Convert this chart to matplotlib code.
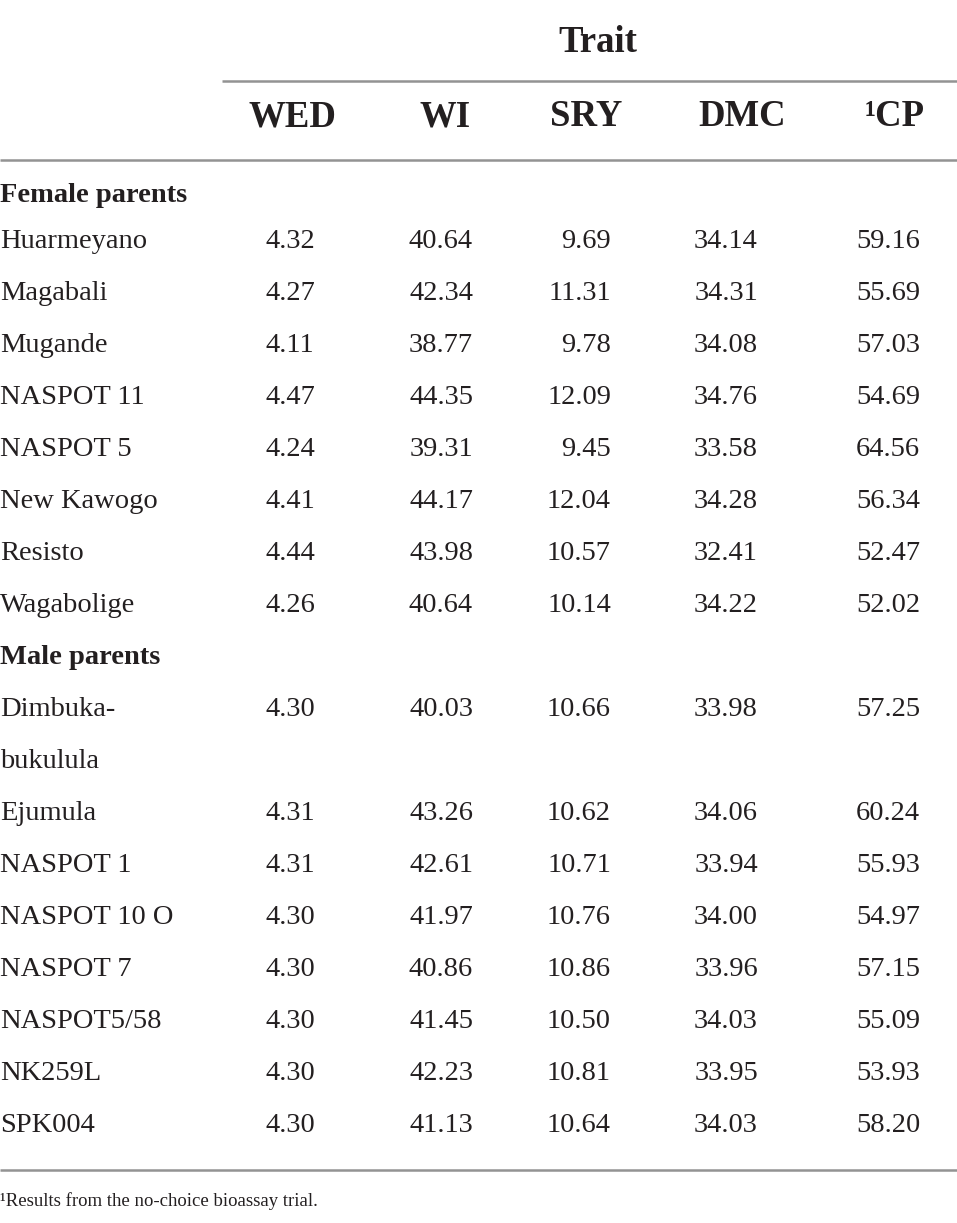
import matplotlib
matplotlib.use("Agg")
import matplotlib.pyplot as plt

plt.rcParams['font.family'] = ['Liberation Serif', 'DejaVu Serif']

columns = ["WED", "WI", "SRY", "DMC", "¹CP"]
female_names = ["Huarmeyano", "Magabali", "Mugande", "NASPOT 11", "NASPOT 5",
                "New Kawogo", "Resisto", "Wagabolige"]
female_wed = ["4.32", "4.27", "4.11", "4.47", "4.24", "4.41", "4.44", "4.26"]
female_wi = ["40.64", "42.34", "38.77", "44.35", "39.31", "44.17", "43.98", "40.64"]
female_sry = ["9.69", "11.31", "9.78", "12.09", "9.45", "12.04", "10.57", "10.14"]
female_dmc = ["34.14", "34.31", "34.08", "34.76", "33.58", "34.28", "32.41", "34.22"]
female_cp = ["59.16", "55.69", "57.03", "54.69", "64.56", "56.34", "52.47", "52.02"]

male_names = ["Dimbuka-\nbukulula", "Ejumula", "NASPOT 1", "NASPOT 10 O", "NASPOT 7",
              "NASPOT5/58", "NK259L", "SPK004"]
male_wed = ["4.30", "4.31", "4.31", "4.30", "4.30", "4.30", "4.30", "4.30"]
male_wi = ["40.03", "43.26", "42.61", "41.97", "40.86", "41.45", "42.23", "41.13"]
male_sry = ["10.66", "10.62", "10.71", "10.76", "10.86", "10.50", "10.81", "10.64"]
male_dmc = ["33.98", "34.06", "33.94", "34.00", "33.96", "34.03", "33.95", "34.03"]
male_cp = ["57.25", "60.24", "55.93", "54.97", "57.15", "55.09", "53.93", "58.20"]

footnote = "¹Results from the no-choice bioassay trial."

W, H = 957, 1223
fig = plt.figure(figsize=(W / 100, H / 100), dpi=100)
ax = fig.add_axes([0, 0, 1, 1])
ax.set_xlim(0, W)
ax.set_ylim(H, 0)
ax.axis("off")

fs = 20.5
hfs = 26.5
txt_col = "#231f20"
col_x = [290, 441, 611, 726, 888]
col_ha = ["center", "center", "right", "center", "center"]
head_x = [292, 445, 586, 742, 895]
dy = 2

line_col = "#939393"
ax.plot([222, W], [81, 81], color=line_col, lw=1.8, solid_capstyle="butt")
ax.plot([0, W], [160, 160], color=line_col, lw=1.8, solid_capstyle="butt")
ax.plot([0, W], [1170, 1170], color=line_col, lw=1.8, solid_capstyle="butt")

ax.text(598, 43, "Trait", fontsize=hfs, fontweight="bold", ha="center",
        va="center", color=txt_col)
for x, c in zip(head_x, columns):
    ax.text(x, 117, c, fontsize=hfs, fontweight="bold", ha="center",
            va="center", color=txt_col)

def draw_group(title, y0, names, cols, row_ys):
    ax.text(0, y0 + dy, title, fontsize=fs, fontweight="bold", ha="left",
            va="center", color=txt_col)
    for i, name in enumerate(names):
        y = row_ys[i] + dy
        for k, ln in enumerate(name.split("\n")):
            ax.text(0, y + 52 * k, ln, fontsize=fs, ha="left", va="center",
                    color=txt_col)
        for x, ha, col in zip(col_x, col_ha, cols):
            ax.text(x, y, col[i], fontsize=fs, ha=ha, va="center", color=txt_col)

female_ys = [240 + 52 * i for i in range(8)]
draw_group("Female parents", 194, female_names,
           [female_wed, female_wi, female_sry, female_dmc, female_cp], female_ys)
male_ys = [708, 812, 864, 916, 968, 1020, 1072, 1124]
draw_group("Male parents", 656, male_names,
           [male_wed, male_wi, male_sry, male_dmc, male_cp], male_ys)

ax.text(0, 1201, footnote, fontsize=13.5, ha="left", va="center", color=txt_col)

fig.savefig("out.png", dpi=100)
